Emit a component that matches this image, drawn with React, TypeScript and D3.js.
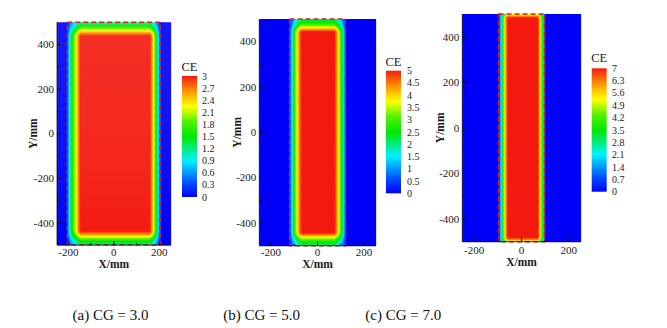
import React, { useMemo } from "react";
import * as d3 from "d3";

// ---------- data ----------
const X_DOMAIN = [-250, 250];
const Y_DOMAIN = [-500, 500];
const X_TICKS = [-200, 0, 200];
const X_MINOR = [-100, 100];
const Y_TICKS = [-400, -200, 0, 200, 400];
const Y_MINOR = [-300, -100, 100, 300];

const CAPTIONS = ["(a) CG = 3.0", "(b) CG = 5.0", "(c) CG = 7.0"];
const CE_MAX = [3, 5, 7];
const BAR_LABELS_A = ["0", "0.3", "0.6", "0.9", "1.2", "1.5", "1.8", "2.1", "2.4", "2.7", "3"];
const BAR_LABELS_B = ["0", "0.5", "1", "1.5", "2", "2.5", "3", "3.5", "4", "4.5", "5"];
const BAR_LABELS_C = ["0", "0.7", "1.4", "2.1", "2.8", "3.5", "4.2", "4.9", "5.6", "6.3", "7"];
const PLATE_HALF_WIDTH = [205, 120, 97];

// CE cross-section profiles (fraction of the panel's max CE)
const PROF_X_A = [-250, -210, -202, -196, -188, -180, -172, -164, -156, -146, 158, 166, 174, 182, 190, 198, 210, 250];
const PROF_FX_A = [0, 0, 0.15, 0.3, 0.45, 0.57, 0.67, 0.77, 0.9, 1, 1, 0.9, 0.76, 0.6, 0.42, 0.22, 0, 0];
const PROF_Y_A = [-500, -482, -466, -452, -438, 438, 452, 466, 482, 500];
const PROF_FY_A = [0.38, 0.52, 0.7, 0.88, 1, 1, 0.88, 0.7, 0.52, 0.4];

const PROF_X_B = [-250, -122, -112, -102, -92, -82, -70, 74, 84, 94, 104, 114, 124, 250];
const PROF_FX_B = [0, 0, 0.25, 0.48, 0.68, 0.85, 1, 1, 0.86, 0.7, 0.5, 0.27, 0, 0];
const PROF_Y_B = [-500, -478, -462, -444, 444, 462, 478, 500];
const PROF_FY_B = [0.4, 0.56, 0.76, 1, 1, 0.76, 0.56, 0.42];

const PROF_X_C = [-250, -96, -88, -80, -71, -60, 70, 80, 88, 95, 101, 250];
const PROF_FX_C = [0, 0, 0.25, 0.5, 0.75, 1, 1, 0.75, 0.5, 0.25, 0, 0];
const PROF_Y_C = [-500, -492, -483, 483, 492, 500];
const PROF_FY_C = [0.68, 0.86, 1, 1, 0.86, 0.7];

const CMAP_STOPS = [0, 0.12, 0.3, 0.5, 0.62, 0.75, 0.88, 1];
const CMAP_COLORS = ["#0000f8", "#0050ff", "#00f0ff", "#00e800", "#50f000", "#ffff00", "#ff9000", "#f41a10"];

const PANELS = [
  { max: CE_MAX[0], labels: BAR_LABELS_A, px: PROF_X_A, pfx: PROF_FX_A, py: PROF_Y_A, pfy: PROF_FY_A, plate: PLATE_HALF_WIDTH[0], caption: CAPTIONS[0] },
  { max: CE_MAX[1], labels: BAR_LABELS_B, px: PROF_X_B, pfx: PROF_FX_B, py: PROF_Y_B, pfy: PROF_FY_B, plate: PLATE_HALF_WIDTH[1], caption: CAPTIONS[1] },
  { max: CE_MAX[2], labels: BAR_LABELS_C, px: PROF_X_C, pfx: PROF_FX_C, py: PROF_Y_C, pfy: PROF_FY_C, plate: PLATE_HALF_WIDTH[2], caption: CAPTIONS[2] },
];

// ---------- layout ----------
const LAYOUT = [
  { left: 57, right: 170.7, top: 22.3, bottom: 245, yTitleX: 33, xLabY: 255.5, xTitleY: 268, barX: 182, barY0: 76, barY1: 197, ceY: 70.5, labX: 202, capX: 110.5 },
  { left: 259.3, right: 375.7, top: 19, bottom: 245.7, yTitleX: 236.7, xLabY: 255.5, xTitleY: 267.5, barX: 386, barY0: 70.7, barY1: 193.3, ceY: 65.5, labX: 407, capX: 261.7 },
  { left: 462.3, right: 580.7, top: 14, bottom: 241.7, yTitleX: 440, xLabY: 254, xTitleY: 265.5, barX: 591.7, barY0: 68.3, barY1: 191.7, ceY: 62, labX: 612, capX: 403.3 },
];
const BAR_W = 15;
const CAP_Y = 320;
const FONT = "Liberation Serif, DejaVu Serif, serif";
const TXT = "#1a1a1a";

function buildField(p: any, L: any) {
  const xs = d3.scaleLinear(X_DOMAIN, [L.left, L.right]);
  const ys = d3.scaleLinear(Y_DOMAIN, [L.bottom, L.top]);
  const fx = d3.scaleLinear(p.px, p.pfx).clamp(true);
  const fy = d3.scaleLinear(p.py, p.pfy).clamp(true);
  const color = d3.scaleLinear<string>(CMAP_STOPS.map((s) => s * p.max), CMAP_COLORS).clamp(true);
  const nCols = Math.round(L.right - L.left);
  const nRows = Math.round(L.bottom - L.top);
  const cw = (L.right - L.left) / nCols;
  const rh = (L.bottom - L.top) / nRows;
  const rects: any[] = [];
  for (let i = 0; i < nRows; i++) {
    const y0 = L.top + i * rh;
    const yv = ys.invert(y0 + rh / 2);
    const vy = fy(yv);
    let runStart = 0;
    let runFill = "";
    for (let j = 0; j <= nCols; j++) {
      let fill = "";
      if (j < nCols) {
        const xv = xs.invert(L.left + (j + 0.5) * cw);
        fill = color(p.max * fx(xv) * vy);
      }
      if (j === 0) {
        runFill = fill;
        runStart = 0;
      } else if (fill !== runFill) {
        rects.push({ x: L.left + runStart * cw, y: y0, w: (j - runStart) * cw, h: rh, fill: runFill });
        runStart = j;
        runFill = fill;
      }
    }
  }
  return { rects, xs, ys, color };
}

function Panel({ p, L, idx }: any) {
  const { rects, xs, ys, color } = useMemo(() => buildField(p, L), [p, L]);
  const barScale = d3.scaleLinear([0, p.max], [L.barY1, L.barY0]);
  const gradId = `grad${idx}`;
  const cx = (L.left + L.right) / 2;
  const cy = (L.top + L.bottom) / 2;
  const tf = { fontFamily: FONT };
  return (
    <g>
      <g>
        {rects.map((r: any, k: number) => (
          <rect key={k} x={r.x} y={r.y} width={r.w + 0.4} height={r.h + 0.4} fill={r.fill} />
        ))}
      </g>
      {/* plate outline */}
      <rect
        x={xs(-p.plate)}
        y={ys(500)}
        width={xs(p.plate) - xs(-p.plate)}
        height={ys(-500) - ys(500)}
        fill="none"
        stroke="#d0202a"
        strokeWidth={1.4}
        strokeDasharray="5,3"
      />
      {/* axes */}
      <line x1={L.left} x2={L.right} y1={L.bottom} y2={L.bottom} stroke="#111" strokeWidth={0.8} />
      <line x1={L.left} x2={L.left} y1={L.top} y2={L.bottom} stroke="#111" strokeWidth={0.8} />
      {X_TICKS.map((t) => (
        <g key={"xt" + t}>
          <line x1={xs(t)} x2={xs(t)} y1={L.bottom} y2={L.bottom - 4} stroke="#111" strokeWidth={1} />
          <text x={xs(t)} y={L.xLabY} textAnchor="middle" fontSize={11} style={tf} fill={TXT}>
            {t}
          </text>
        </g>
      ))}
      {X_MINOR.map((t) => (
        <line key={"xm" + t} x1={xs(t)} x2={xs(t)} y1={L.bottom} y2={L.bottom - 2} stroke="#111" strokeWidth={1} />
      ))}
      {Y_TICKS.map((t) => (
        <g key={"yt" + t}>
          <line x1={L.left} x2={L.left + 4} y1={ys(t)} y2={ys(t)} stroke="#111" strokeWidth={1} />
          <text x={L.left - 3} y={ys(t) + 3.8} textAnchor="end" fontSize={11} style={tf} fill={TXT}>
            {t}
          </text>
        </g>
      ))}
      {Y_MINOR.map((t) => (
        <line key={"ym" + t} x1={L.left} x2={L.left + 2} y1={ys(t)} y2={ys(t)} stroke="#111" strokeWidth={1} />
      ))}
      <text x={cx} y={L.xTitleY} textAnchor="middle" fontSize={11.5} fontWeight="bold" style={tf} fill={TXT}>
        X/mm
      </text>
      <text
        transform={`translate(${L.yTitleX + 4},${cy}) rotate(-90)`}
        textAnchor="middle"
        fontSize={11.5}
        fontWeight="bold"
        style={tf}
        fill={TXT}
      >
        Y/mm
      </text>
      {/* colorbar */}
      <defs>
        <linearGradient id={gradId} x1="0" y1="1" x2="0" y2="0">
          {CMAP_STOPS.map((s, k) => (
            <stop key={k} offset={s} stopColor={color(s * p.max)} />
          ))}
        </linearGradient>
      </defs>
      <rect x={L.barX} y={L.barY0} width={BAR_W} height={L.barY1 - L.barY0} fill={`url(#${gradId})`} />
      <text x={L.barX + BAR_W / 2} y={L.ceY} textAnchor="middle" fontSize={12.5} style={tf} fill={TXT}>
        CE
      </text>
      {p.labels.map((lab: string) => (
        <text key={lab} x={L.labX} y={barScale(+lab) + 3.5} fontSize={10} style={tf} fill={TXT}>
          {lab}
        </text>
      ))}
      <text x={L.capX} y={CAP_Y} textAnchor="middle" fontSize={15} style={tf} fill="#111">
        {p.caption}
      </text>
    </g>
  );
}

export default function App() {
  return (
    <svg
      width={667}
      height={328}
      viewBox="0 0 667 328"
      style={{ position: "absolute", left: 0, top: 0, background: "#fff" }}
    >
      <rect width={667} height={328} fill="#fff" />
      {PANELS.map((p, i) => (
        <Panel key={i} p={p} L={LAYOUT[i]} idx={i} />
      ))}
    </svg>
  );
}
